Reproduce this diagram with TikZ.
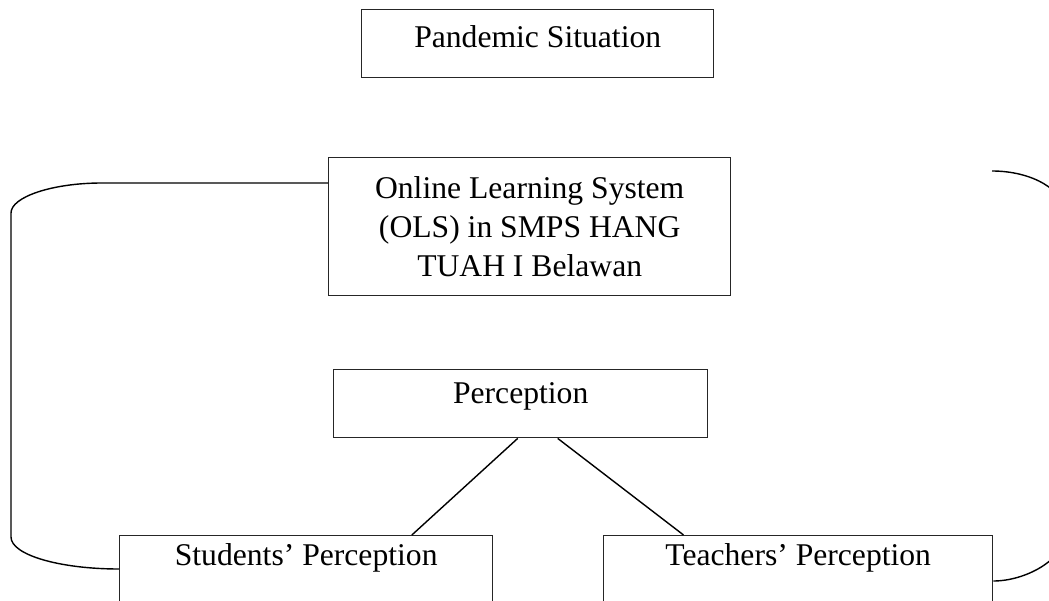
\documentclass[tikz,border=0pt]{standalone}
\usepackage{fontspec}
\setmainfont{Liberation Serif}
\usetikzlibrary{calc}
\tikzset{box/.style={draw=black!85, line width=1.2pt, inner sep=0pt, anchor=north west, font=\fontsize{27pt}{33.6pt}\selectfont},
  link/.style={line width=1.2pt}}

\begin{document}
\begin{tikzpicture}[x=0.3mm,y=-0.3mm]
\useasboundingbox (0,0) rectangle (1049,601);
\clip (0,0) rectangle (1049,601);
\node[box, minimum width=105.6mm, text height=11.4mm, text depth=9mm] (pand) at (361,9) {Pandemic Situation};
\node[box, minimum width=120.6mm, minimum height=41.4mm, align=center] (ols) at (328,157) {Online Learning System\\(OLS) in SMPS HANG\\TUAH I Belawan};
\node[box, minimum width=112.2mm, text height=10.2mm, text depth=10.2mm] (perc) at (333,369) {Perception};
\node[box, minimum width=111.9mm, text height=9mm, text depth=16.5mm] (stud) at (119,535) {Students’ Perception};
\node[box, minimum width=116.7mm, text height=9mm, text depth=16.5mm] (teach) at (603,535) {Teachers’ Perception};
\coordinate (rtop) at (992,171);
\draw[link] ([xshift=-0.9mm]perc.south) -- ([xshift=31.7mm]stud.north);
\draw[link] ([xshift=11.1mm]perc.south) -- ([xshift=-34.4mm]teach.north);
\draw[link] ([yshift=-7.8mm]ols.north west) -- (102,183) .. controls (52,183) and (11,197) .. (11,213) -- (11,537) .. controls (11,555) and (60,569) .. ([yshift=-10.2mm]stud.north west);
\draw[link] (rtop) .. controls (1032,171) and (1065,190) .. (1065,214) -- (1065,533) .. controls (1065,560) and (1025,581) .. ([yshift=-13.8mm]teach.north east);
\end{tikzpicture}
\end{document}
